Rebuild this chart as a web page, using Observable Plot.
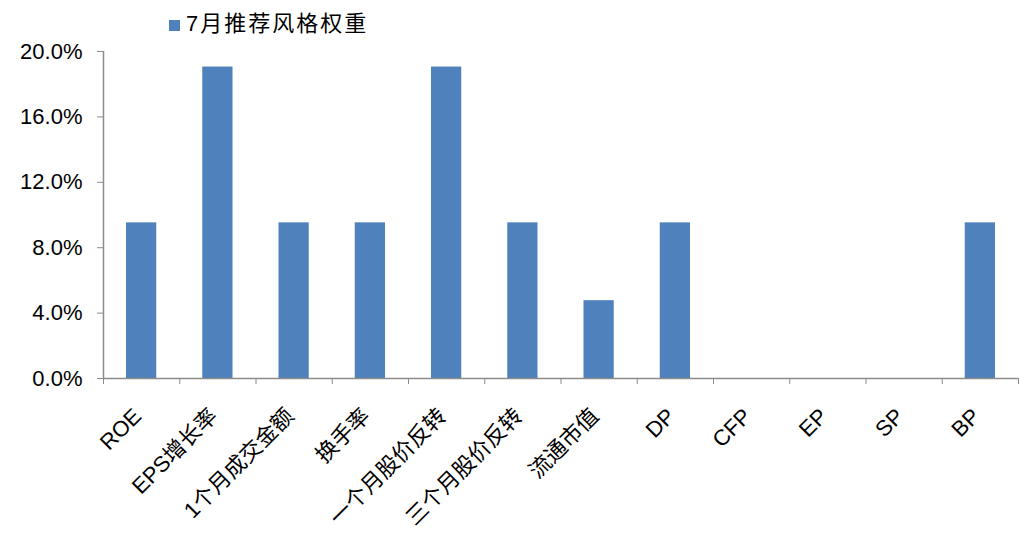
<!DOCTYPE html>
<html><head><meta charset="utf-8">
<script src="https://cdn.jsdelivr.net/npm/d3@7"></script>
<script src="https://cdn.jsdelivr.net/npm/@observablehq/plot@0.6"></script>
<style>
body{margin:0;background:#fff;font-family:"Liberation Sans","Noto Sans CJK SC",sans-serif;}
#legend{height:40px;position:relative;width:1032px;}
#legend .sw{position:absolute;left:169px;top:20px;width:11px;height:11px;background:#4f81bd;}
#legend .lt{position:absolute;left:186px;top:10px;font-size:22px;line-height:28px;letter-spacing:2px;color:#000;}
#chart svg{display:block;}
</style></head><body>
<div id="legend"><span class="sw"></span><span class="lt" id="legendText"></span></div>
<div id="chart"></div>
<script>
const seriesName = "7月推荐风格权重";
const categories = ["ROE","EPS增长率","1个月成交金额","换手率","一个月股价反转","三个月股价反转","流通市值","DP","CFP","EP","SP","BP"];
const weights = [9.52,19.05,9.52,9.52,19.05,9.52,4.76,9.52,0,0,0,9.52];
const yTicks = [0,4,8,12,16,20];

document.getElementById("legendText").textContent = seriesName;
const data = categories.map((c,i)=>({category:c, index:i, value:weights[i]}));
const axisColor = "#8c8c8c";
const chart = Plot.plot({
  width:1032, height:500, marginLeft:103, marginRight:14, marginTop:11, marginBottom:162,
  style:{fontFamily:'"Liberation Sans","Noto Sans CJK SC",sans-serif', fontSize:"20px", color:"black", background:"white", overflow:"visible"},
  x:{domain:[0,categories.length], axis:null},
  y:{domain:[0,20], axis:null},
  marks:[
    Plot.rectY(data,{x1:"index", x2:d=>d.index+1, y:"value", fill:"#4f81bd", insetLeft:23, insetRight:23}),
    Plot.ruleX([0],{stroke:axisColor, strokeWidth:1.5}),
    Plot.ruleY([0],{stroke:axisColor, strokeWidth:1.5}),
    Plot.axisY({ticks:yTicks, tickSize:6, tickPadding:15, tickFormat:d=>d.toFixed(1)+"%", stroke:axisColor, fill:"black", fontSize:22, label:null}),
    Plot.axisX({ticks:d3.range(categories.length+1), tickSize:6, tickFormat:()=>"", stroke:axisColor, label:null}),
    Plot.text(data,{x:d=>d.index+0.5, y:()=>0, text:"category", rotate:-45, textAnchor:"end", lineAnchor:"bottom", dx:1, dy:39, fontSize:22, fill:"black"})
  ]
});
document.getElementById("chart").appendChild(chart);
</script>
</body></html>
